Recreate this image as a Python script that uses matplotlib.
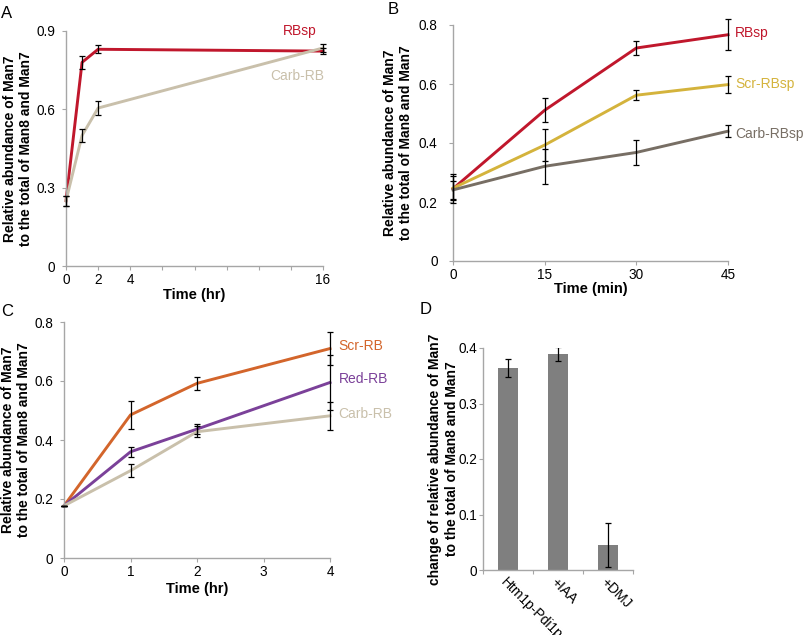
import matplotlib
matplotlib.use("Agg")
import matplotlib.pyplot as plt

plt.rcParams['font.family'] = ['Liberation Sans', 'DejaVu Sans']

# ---------------- data ----------------
# Panel A
a_time = [0, 1, 2, 16]
a_rbsp = [0.25, 0.78, 0.83, 0.823]
a_rbsp_err = [0.02, 0.025, 0.015, 0.012]
a_carb = [0.25, 0.50, 0.605, 0.835]
a_carb_err = [0.02, 0.025, 0.025, 0.015]
a_xticks = [0, 2, 4, 6, 8, 10, 12, 14, 16]
a_xticklabels = ['0', '2', '4', '', '', '', '', '', '16']
a_yticks = [0, 0.3, 0.6, 0.9]

# Panel B
b_time = [0, 15, 30, 45]
b_rbsp = [0.245, 0.511, 0.722, 0.767]
b_rbsp_err = [0.05, 0.04, 0.024, 0.052]
b_scr = [0.247, 0.393, 0.562, 0.598]
b_scr_err = [0.04, 0.055, 0.016, 0.028]
b_carb = [0.241, 0.321, 0.368, 0.440]
b_carb_err = [0.03, 0.06, 0.042, 0.021]
b_yticks = [0, 0.2, 0.4, 0.6, 0.8]

# Panel C
c_time = [0, 1, 2, 4]
c_scr = [0.177, 0.485, 0.592, 0.710]
c_scr_err = [0.0, 0.047, 0.022, 0.056]
c_red = [0.177, 0.360, 0.437, 0.595]
c_red_err = [0.0, 0.017, 0.018, 0.093]
c_carb = [0.177, 0.296, 0.428, 0.482]
c_carb_err = [0.0, 0.022, 0.018, 0.047]
c_yticks = [0, 0.2, 0.4, 0.6, 0.8]

# Panel D
d_cats = ['Htm1p-Pdi1p', '+IAA', '+DMJ']
d_vals = [0.364, 0.389, 0.045]
d_errs = [0.016, 0.012, 0.04]
d_yticks = [0, 0.1, 0.2, 0.3, 0.4]

# ---------------- styling ----------------
RED = '#c0172c'
BEIGE = '#c9c0ab'
YELLOW = '#d4b33c'
GRAYBROWN = '#776e64'
ORANGE = '#d3652b'
PURPLE = '#7b4199'
BAR = '#7f7f7f'
AXC = '#a6a6a6'
LW = 2.1
TFS = 9.8
SFS = 10
LFS = 10.5
YLFS = 10

fig = plt.figure(figsize=(8.05, 6.35), dpi=100)
W, H = 805.0, 635.0


def mkax(l, r, t, b):
    return fig.add_axes([l / W, 1 - b / H, (r - l) / W, (b - t) / H])


def style(ax, ypad):
    for s in ['top', 'right']:
        ax.spines[s].set_visible(False)
    for s in ['left', 'bottom']:
        ax.spines[s].set_color(AXC)
        ax.spines[s].set_linewidth(1.0)
    ax.tick_params(axis='both', colors=AXC, labelcolor='black', labelsize=TFS,
                   length=3, width=0.8, direction='out')
    ax.tick_params(axis='x', pad=2)
    ax.tick_params(axis='y', pad=ypad)


def series(ax, x, y, e, color):
    ax.plot(x, y, color=color, lw=LW, solid_joinstyle='round', zorder=2, clip_on=False)
    ax.errorbar(x, y, yerr=e, fmt='none', ecolor='black', elinewidth=0.9,
                capsize=2, capthick=0.9, zorder=3, clip_on=False)


ylab = 'Relative abundance of Man7\nto the total of Man8 and Man7'

# Panel A
axA = mkax(66, 323, 31, 266)
style(axA, 5)
series(axA, a_time, a_rbsp, a_rbsp_err, RED)
series(axA, a_time, a_carb, a_carb_err, BEIGE)
axA.set_xlim(0, 16)
axA.set_ylim(0, 0.9)
axA.set_xticks(a_xticks)
axA.set_xticklabels(a_xticklabels)
axA.set_yticks(a_yticks)
axA.set_yticklabels(['0', '0.3', '0.6', '0.9'])
axA.set_xlabel('Time (hr)', fontweight='bold', fontsize=LFS, labelpad=1)
axA.set_ylabel(ylab, fontweight='bold', fontsize=YLFS, labelpad=2)
axA.text(15.6, 0.9, 'RBsp', color=RED, fontsize=SFS, ha='right', va='center')
axA.text(16.05, 0.727, 'Carb-RB', color=BEIGE, fontsize=SFS, ha='right', va='center')

# Panel B
axB = mkax(453, 728, 25, 261)
style(axB, 8)
series(axB, b_time, b_rbsp, b_rbsp_err, RED)
series(axB, b_time, b_scr, b_scr_err, YELLOW)
series(axB, b_time, b_carb, b_carb_err, GRAYBROWN)
axB.set_xlim(0, 45)
axB.set_ylim(0, 0.8)
axB.set_xticks(b_time)
axB.set_yticks(b_yticks)
axB.set_yticklabels(['0', '0.2', '0.4', '0.6', '0.8'])
axB.set_xlabel('Time (min)', fontweight='bold', fontsize=LFS, labelpad=0)
axB.set_ylabel(ylab, fontweight='bold', fontsize=YLFS, labelpad=4)
axB.text(46.2, 0.772, 'RBsp', color=RED, fontsize=SFS, ha='left', va='center', clip_on=False)
axB.text(46.2, 0.60, 'Scr-RBsp', color=YELLOW, fontsize=SFS, ha='left', va='center', clip_on=False)
axB.text(46.2, 0.43, 'Carb-RBsp', color=GRAYBROWN, fontsize=SFS, ha='left', va='center', clip_on=False)

# Panel C
axC = mkax(64, 330, 322, 558)
style(axC, 5)
series(axC, c_time, c_scr, c_scr_err, ORANGE)
series(axC, c_time, c_red, c_red_err, PURPLE)
series(axC, c_time, c_carb, c_carb_err, BEIGE)
axC.set_xlim(0, 4)
axC.set_ylim(0, 0.8)
axC.set_xticks([0, 1, 2, 3, 4])
axC.set_yticks(c_yticks)
axC.set_yticklabels(['0', '0.2', '0.4', '0.6', '0.8'])
axC.set_xlabel('Time (hr)', fontweight='bold', fontsize=LFS, labelpad=2)
axC.set_ylabel(ylab, fontweight='bold', fontsize=YLFS, labelpad=2)
axC.text(4.13, 0.72, 'Scr-RB', color=ORANGE, fontsize=SFS, ha='left', va='center', clip_on=False)
axC.text(4.13, 0.608, 'Red-RB', color=PURPLE, fontsize=SFS, ha='left', va='center', clip_on=False)
axC.text(4.13, 0.488, 'Carb-RB', color=BEIGE, fontsize=SFS, ha='left', va='center', clip_on=False)

# Panel D
axD = mkax(483, 633, 348, 570)
style(axD, 1)
xs = list(range(len(d_cats)))
axD.bar(xs, d_vals, width=0.4, color=BAR, zorder=2)
axD.errorbar(xs, d_vals, yerr=d_errs, fmt='none', ecolor='black', elinewidth=0.9,
             capsize=2, capthick=0.9, zorder=3)
axD.set_xlim(-0.5, len(d_cats) - 0.5)
axD.set_ylim(0, 0.4)
axD.set_yticks(d_yticks)
axD.set_yticklabels(['0', '0.1', '0.2', '0.3', '0.4'])
axD.set_xticks([i - 0.5 for i in range(len(d_cats) + 1)])
axD.set_xticklabels([])
axD.set_xticks(xs, minor=True)
axD.set_xticklabels(d_cats, minor=True, rotation=-45, ha='left', va='top',
                    rotation_mode='anchor', fontsize=SFS)
axD.tick_params(axis='x', which='minor', length=0, pad=4)
axD.set_ylabel('change of relative abundance of Man7\nto the total of Man8 and Man7',
               fontweight='bold', fontsize=YLFS, labelpad=0)

# Panel letters
fig.text(7 / W, 1 - 13 / H, 'A', fontsize=12, ha='center', va='center')
fig.text(393 / W, 1 - 10 / H, 'B', fontsize=12, ha='center', va='center')
fig.text(7 / W, 1 - 311 / H, 'C', fontsize=12, ha='center', va='center')
fig.text(426 / W, 1 - 310 / H, 'D', fontsize=12, ha='center', va='center')

fig.savefig('out.png', dpi=100)
